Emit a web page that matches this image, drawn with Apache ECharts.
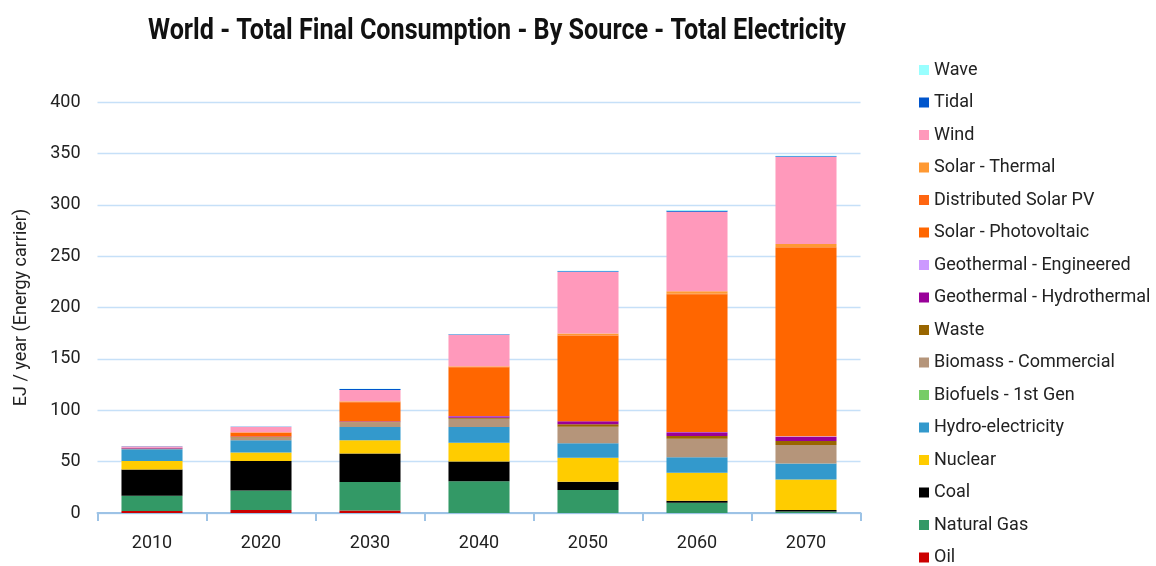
<!DOCTYPE html>
<html>
<head>
<meta charset="utf-8">
<script src="https://cdn.jsdelivr.net/npm/echarts@6/dist/echarts.min.js"></script>
<style>html,body{margin:0;padding:0;background:#fff}#c{width:1156px;height:566px}</style>
</head>
<body>
<div id="c"></div>
<script>
const categories = ['2010','2020','2030','2040','2050','2060','2070'];
const oil          = [2.0, 3.0, 2.5, 0, 0, 0, 0];
const naturalGas   = [14.8, 19.0, 27.6, 31.0, 22.4, 10.0, 1.5];
const coal         = [25.5, 28.5, 27.9, 19.2, 8.1, 2.0, 1.5];
const nuclear      = [8.4, 8.5, 12.7, 18.1, 23.3, 27.2, 29.5];
const hydro        = [11.4, 11.7, 12.9, 15.3, 14.0, 15.0, 15.6];
const biofuels     = [0, 0, 0, 0, 0, 0, 0];
const biomass      = [0.5, 2.9, 4.6, 8.1, 16.2, 18.1, 18.2];
const waste        = [0.2, 0.3, 0.5, 1.0, 2.3, 2.6, 3.8];
const geoHydro     = [0.6, 0.5, 0.5, 1.5, 2.9, 3.6, 4.2];
const geoEng       = [0, 0, 0, 0.1, 0.2, 0.3, 0.4];
const solarPV      = [0.2, 3.4, 18.5, 47.5, 83.2, 134.0, 183.3];
const distSolarPV  = [0, 0.5, 0.5, 0.5, 0.5, 0.7, 0.6];
const solarThermal = [0, 0.3, 0.5, 0.5, 1.6, 2.2, 3.3];
const wind         = [1.0, 5.0, 11.0, 30.8, 59.8, 77.5, 84.5];
const tidal        = [0.3, 0.3, 1.0, 0.3, 0.8, 1.0, 0.9];
const wave         = [0.1, 0.1, 0.2, 0.2, 0.4, 0.6, 0.4];
const yTicks = [0, 50, 100, 150, 200, 250, 300, 350, 400];
const titleText = 'World - Total Final Consumption - By Source - Total Electricity';

const seriesDefs = [
  ['Oil', oil, '#cc0000'],
  ['Natural Gas', naturalGas, '#339966'],
  ['Coal', coal, '#000000'],
  ['Nuclear', nuclear, '#ffcc00'],
  ['Hydro-electricity', hydro, '#3399cc'],
  ['Biofuels - 1st Gen', biofuels, '#77cc66'],
  ['Biomass - Commercial', biomass, '#b5957a'],
  ['Waste', waste, '#996600'],
  ['Geothermal - Hydrothermal', geoHydro, '#990099'],
  ['Geothermal - Engineered', geoEng, '#cc99ff'],
  ['Solar - Photovoltaic', solarPV, '#ff6600'],
  ['Distributed Solar PV', distSolarPV, '#ff6611'],
  ['Solar - Thermal', solarThermal, '#ff9933'],
  ['Wind', wind, '#ff99bb'],
  ['Tidal', tidal, '#0055cc'],
  ['Wave', wave, '#99ffff']
];
const FONT = "Roboto, 'Liberation Sans', sans-serif";
const TITLE_SIZE = 29, TITLE_WIDTH = 698;
const mc = document.createElement('canvas').getContext('2d');
mc.font = 'bold ' + TITLE_SIZE + 'px ' + FONT;
const tScale = Math.min(1, TITLE_WIDTH / mc.measureText(titleText).width);

const chart = echarts.init(document.getElementById('c'), null, {renderer: 'canvas'});
chart.setOption({
  animation: false,
  backgroundColor: '#ffffff',
  textStyle: {fontFamily: FONT},
  graphic: [{
    type: 'text', x: 497, y: 32, scaleX: tScale, originX: 0, originY: 0,
    style: {text: titleText, fill: '#111', font: 'bold ' + TITLE_SIZE + 'px ' + FONT,
      textAlign: 'center', textVerticalAlign: 'middle'}
  }],
  legend: {
    orient: 'vertical', left: 919, top: 61, height: 540, padding: 0,
    itemWidth: 10, itemHeight: 10, itemGap: 14.5,
    icon: 'rect',
    textStyle: {fontFamily: FONT, fontSize: 18, color: '#222'},
    data: seriesDefs.map(d => d[0]).slice().reverse()
  },
  grid: {left: 97.5, right: 295.5, top: 102, bottom: 53, containLabel: false},
  xAxis: {
    type: 'category', data: categories,
    axisLine: {lineStyle: {color: '#9dc3e6', width: 2}},
    axisTick: {show: true, length: 8, lineStyle: {color: '#9dc3e6', width: 2}},
    axisLabel: {fontFamily: FONT, fontSize: 18, color: '#222', margin: 21}
  },
  yAxis: {
    type: 'value', min: 0, max: 400, interval: 50,
    name: 'EJ / year (Energy carrier)', nameLocation: 'middle', nameGap: 67,
    nameTextStyle: {fontFamily: FONT, fontSize: 18, color: '#222'},
    axisLine: {show: false}, axisTick: {show: false},
    axisLabel: {fontFamily: FONT, fontSize: 18, color: '#222', margin: 17,
      formatter: v => yTicks.includes(v) ? String(v) : ''},
    splitLine: {lineStyle: {color: '#c6e0f8', width: 1.3}}
  },
  series: seriesDefs.map(d => ({
    name: d[0], type: 'bar', stack: 'total', data: d[1],
    barWidth: '56%',
    itemStyle: {color: d[2]}
  }))
});
</script>
</body>
</html>
